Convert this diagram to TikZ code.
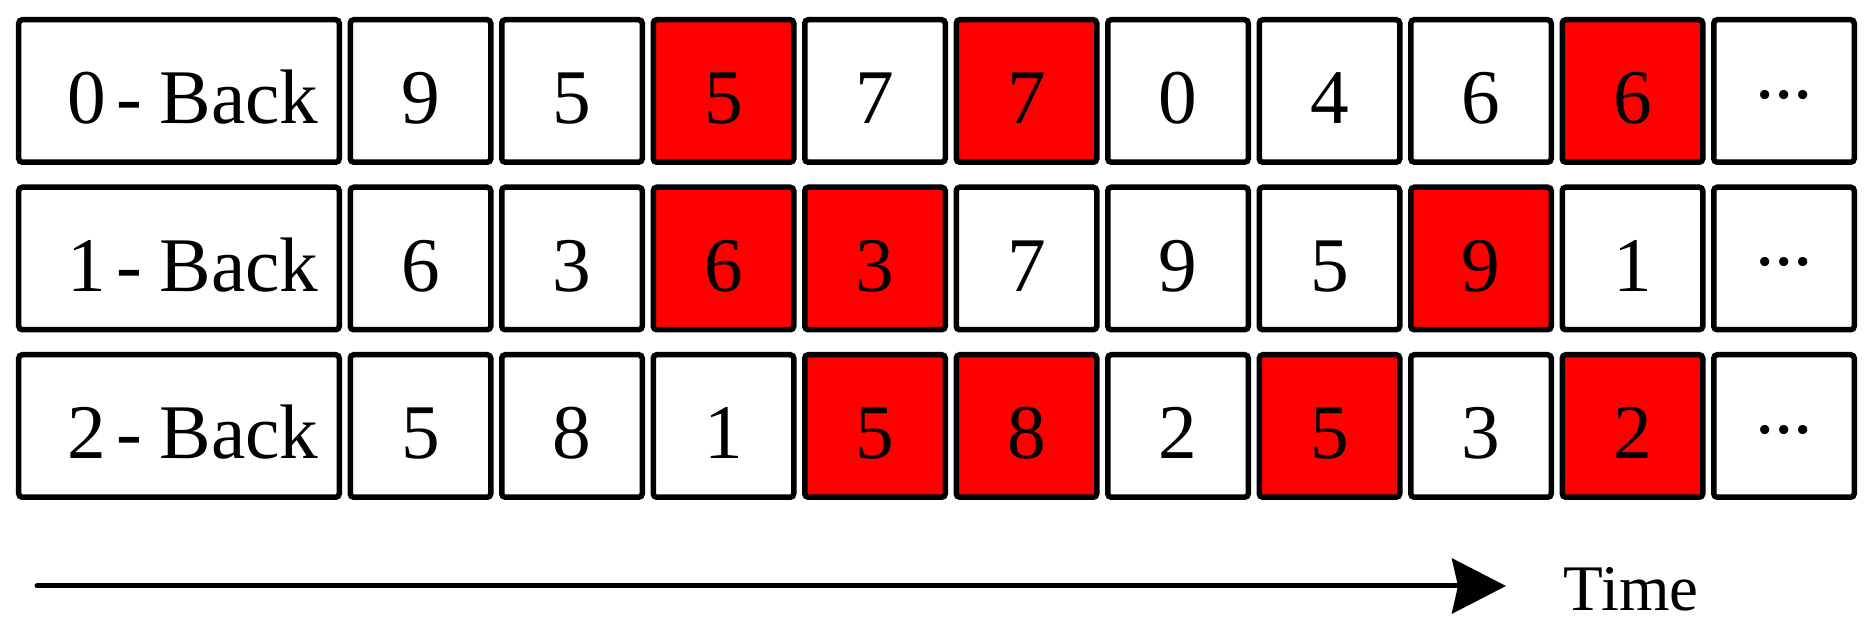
\documentclass[tikz,border=0pt]{standalone}
\usepackage{fontspec}
\setmainfont{Liberation Serif}
\usetikzlibrary{positioning,arrows.meta}
\tikzset{
  cell/.style={draw,line width=0.055cm,rounded corners=1pt,outer sep=0pt,inner sep=0pt,
    minimum width=1.405cm,minimum height=1.425cm,text height=0.7cm,text depth=0.04cm,
    font=\fontsize{22}{26}\selectfont},
  hit/.style={cell,fill=red},
  rowname/.style={cell,minimum width=3.205cm}
}
\newcommand{\more}{\raisebox{0.33em}{...}}
\newcommand{\back}[1]{\hspace{0.28cm}#1\kern0.13em-\kern0.23em Back}
\begin{document}
\begin{tikzpicture}[node distance=0.11cm]
\useasboundingbox (0,0) rectangle (18.75,6.33);
% 0-back
\node[rowname](L0) at (1.79,5.42){\back{0}};
\node[cell,right=of L0](a1){9};
\node[cell,right=of a1](a2){5};
\node[hit,right=of a2](a3){5};
\node[cell,right=of a3](a4){7};
\node[hit,right=of a4](a5){7};
\node[cell,right=of a5](a6){0};
\node[cell,right=of a6](a7){4};
\node[cell,right=of a7](a8){6};
\node[hit,right=of a8](a9){6};
\node[cell,right=of a9](a10){\more};
% 1-back
\node[rowname,below=0.25cm of L0](L1){\back{1}};
\node[cell,right=of L1](b1){6};
\node[cell,right=of b1](b2){3};
\node[hit,right=of b2](b3){6};
\node[hit,right=of b3](b4){3};
\node[cell,right=of b4](b5){7};
\node[cell,right=of b5](b6){9};
\node[cell,right=of b6](b7){5};
\node[hit,right=of b7](b8){9};
\node[cell,right=of b8](b9){1};
\node[cell,right=of b9](b10){\more};
% 2-back
\node[rowname,below=0.25cm of L1](L2){\back{2}};
\node[cell,right=of L2](c1){5};
\node[cell,right=of c1](c2){8};
\node[cell,right=of c2](c3){1};
\node[hit,right=of c3](c4){5};
\node[hit,right=of c4](c5){8};
\node[cell,right=of c5](c6){2};
\node[hit,right=of c6](c7){5};
\node[cell,right=of c7](c8){3};
\node[hit,right=of c8](c9){2};
\node[cell,right=of c9](c10){\more};
% time axis
\node[anchor=base west,inner sep=0pt,font=\fontsize{18.5}{22}\selectfont](T) at (15.63,0.22){Time};
\coordinate(t0) at (0.37,0.47);
\coordinate(t1) at (15.06,0.47);
\draw[line width=0.05cm,line cap=round,-{Stealth[length=0.54cm,width=0.55cm,inset=0.06cm]}](t0)--(t1);
\end{tikzpicture}
\end{document}
